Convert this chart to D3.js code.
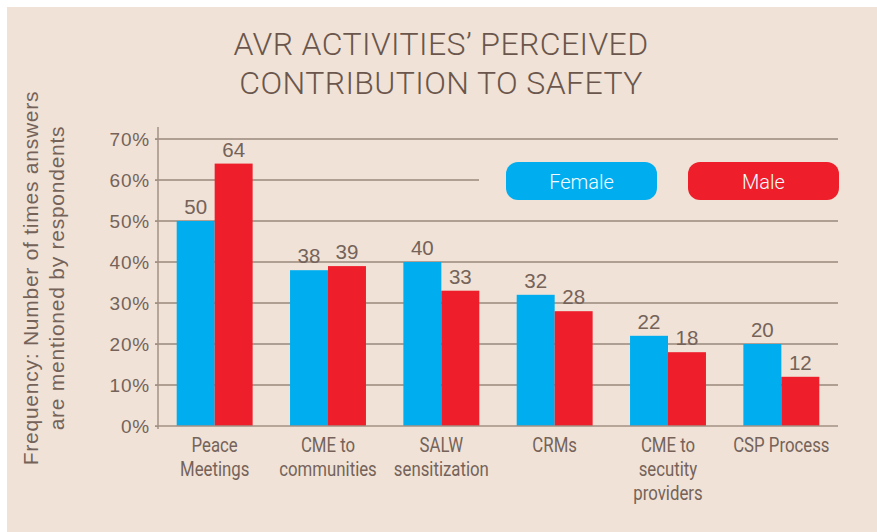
<!DOCTYPE html>
<html>
<head>
<meta charset="utf-8">
<script src="https://cdn.jsdelivr.net/npm/d3@7"></script>
<style>
  html, body { margin: 0; padding: 0; background: #fff; }
  svg { display: block; }
</style>
</head>
<body>
<div id="chart"></div>
<script>
const WIDTH  = 877;
const HEIGHT = 532;

const categories = [
  ["Peace", "Meetings"],
  ["CME to", "communities"],
  ["SALW", "sensitization"],
  ["CRMs"],
  ["CME to", "secutity", "providers"],
  ["CSP Process"]
];
const female = [50, 38, 40, 32, 22, 20];
const male   = [64, 39, 33, 28, 18, 12];
const yTicks = [0, 10, 20, 30, 40, 50, 60, 70];
const seriesNames  = ["Female", "Male"];
const seriesColors = ["#00aeef", "#ee1f2b"];

const BG     = "#f0e2d6";
const GRID   = "#6e5a4e";
const AXIS   = "#a39084";
const TEXT   = "#75635a";
const FONT   = "'Roboto', 'Liberation Sans', sans-serif";
const PLAIN  = "'Liberation Sans', 'Helvetica', sans-serif";
const SQUEEZE = 0.84; // the original uses a condensed face

const plot = { left: 158, right: 838, top: 139, bottom: 426 };

const svg = d3.select("#chart")
  .append("svg")
  .attr("width", WIDTH)
  .attr("height", HEIGHT);

svg.append("rect")
  .attr("x", 7).attr("y", 7)
  .attr("width", WIDTH - 7).attr("height", HEIGHT - 7)
  .attr("fill", BG);

// title
svg.append("text")
  .attr("text-anchor", "middle")
  .attr("font-family", FONT)
  .attr("font-weight", 300)
  .attr("font-size", 32)
  .attr("letter-spacing", 0.4)
  .attr("fill", "#6a564c")
  .selectAll("tspan")
  .data(["AVR ACTIVITIES\u2019 PERCEIVED", "CONTRIBUTION TO SAFETY"])
  .join("tspan")
  .attr("x", 441)
  .attr("y", (d, i) => 55 + i * 39)
  .text(d => d);

const keys = categories.map((c, i) => i);

const x = d3.scaleBand()
  .domain(keys)
  .range([plot.left, plot.right])
  .paddingInner(0.33)
  .paddingOuter(0.165);

const xs = d3.scaleBand()
  .domain([0, 1])
  .range([0, x.bandwidth()]);

const y = d3.scaleLinear()
  .domain([0, 70])
  .range([plot.bottom, plot.top]);

// gridlines (the 60% line stops at the legend)
svg.append("g")
  .selectAll("line")
  .data(yTicks.slice(1))
  .join("line")
  .attr("x1", plot.left - 3)
  .attr("x2", d => d === 60 ? 479 : plot.right)
  .attr("y1", d => y(d)).attr("y2", d => y(d))
  .attr("stroke", GRID)
  .attr("stroke-width", 1.2);

// y axis
const yAxis = svg.append("g")
  .attr("transform", `translate(${plot.left},0)`)
  .call(d3.axisLeft(y).tickValues(yTicks).tickSize(3).tickPadding(5).tickFormat(d => d + "%"));
yAxis.select(".domain").remove();
yAxis.selectAll(".tick line").attr("stroke", AXIS);
yAxis.selectAll(".tick text")
  .attr("font-family", PLAIN)
  .attr("font-size", 19)
  .attr("letter-spacing", 0.8)
  .attr("fill", TEXT);
svg.append("line")
  .attr("x1", plot.left).attr("x2", plot.left)
  .attr("y1", 127).attr("y2", plot.bottom + 3)
  .attr("stroke", AXIS).attr("stroke-width", 1.5);

// y axis title
svg.append("text")
  .attr("transform", "translate(38,278) rotate(-90)")
  .attr("text-anchor", "middle")
  .attr("font-family", PLAIN)
  .attr("font-size", 21)
  .attr("letter-spacing", 0.75)
  .attr("fill", TEXT)
  .selectAll("tspan")
  .data(["Frequency: Number of times answers", "are mentioned by respondents"])
  .join("tspan")
  .attr("x", 0)
  .attr("dy", (d, i) => i ? 26 : 0)
  .text(d => d);

// bars
const groups = svg.append("g")
  .selectAll("g")
  .data(keys)
  .join("g")
  .attr("transform", d => `translate(${x(d)},0)`);

groups.selectAll("rect")
  .data(i => [female[i], male[i]])
  .join("rect")
  .attr("x", (d, j) => xs(j))
  .attr("width", xs.bandwidth())
  .attr("y", d => y(d))
  .attr("height", d => plot.bottom - y(d))
  .attr("fill", (d, j) => seriesColors[j]);

groups.selectAll("text.val")
  .data(i => [female[i], male[i]])
  .join("text")
  .attr("class", "val")
  .attr("x", (d, j) => xs(j) + xs.bandwidth() / 2)
  .attr("y", d => y(d) - 7)
  .attr("text-anchor", "middle")
  .attr("font-family", PLAIN)
  .attr("font-size", 20.5)
  .attr("fill", TEXT)
  .text(d => d);

// x axis line
svg.append("line")
  .attr("x1", plot.left - 3).attr("x2", plot.right)
  .attr("y1", plot.bottom).attr("y2", plot.bottom)
  .attr("stroke", AXIS).attr("stroke-width", 1.5);

// category labels
groups.append("g")
  .attr("transform", `translate(${x.bandwidth() / 2},0) scale(${SQUEEZE},1)`)
  .append("text")
  .attr("text-anchor", "middle")
  .attr("font-family", FONT)
  .attr("font-size", 20)
  .attr("fill", TEXT)
  .selectAll("tspan")
  .data(i => categories[i])
  .join("tspan")
  .attr("x", 0)
  .attr("y", (d, k) => 452 + k * 24)
  .text(d => d);

// legend
const legendX = [506, 688];
const legend = svg.append("g")
  .selectAll("g")
  .data(seriesNames)
  .join("g")
  .attr("transform", (d, i) => `translate(${legendX[i]},162)`);
legend.append("rect")
  .attr("width", 151).attr("height", 38)
  .attr("rx", 12)
  .attr("fill", (d, i) => seriesColors[i]);
legend.append("text")
  .attr("x", 75.5).attr("y", 26.5)
  .attr("text-anchor", "middle")
  .attr("font-family", FONT)
  .attr("font-weight", 300)
  .attr("font-size", 20)
  .attr("fill", "#f4fbff")
  .text(d => d);
</script>
</body>
</html>
